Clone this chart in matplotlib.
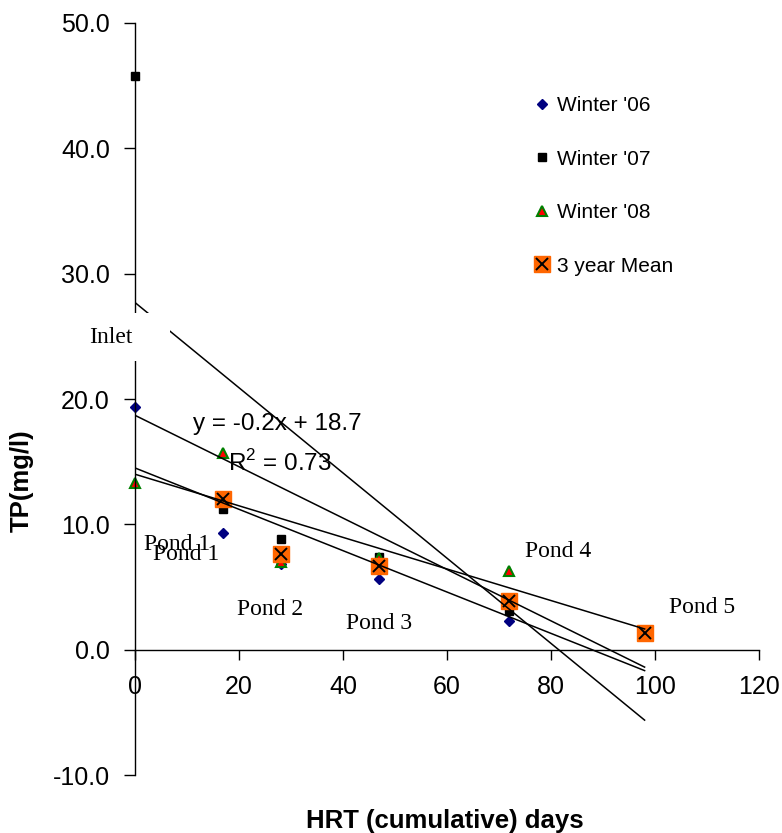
import matplotlib
matplotlib.use("Agg")
import matplotlib.pyplot as plt
from matplotlib.patches import Rectangle

# data
hrt = [0, 17, 28, 47, 72]
w06 = [19.4, 9.3, 6.8, 5.6, 2.3]
w07 = [45.8, 11.2, 8.8, 7.4, 3.1]
w08 = [13.3, 15.7, 7.0, 7.3, 6.3]
mean_hrt = [17, 28, 47, 72, 98]
mean_tp = [12.0, 7.6, 6.7, 3.9, 1.3]

# linear trend lines (slope, intercept), drawn over 0..98 days
trend_slope = [-0.34, -0.205, -0.126, -0.165]
trend_icpt = [27.7, 18.7, 14.0, 14.5]
trend_x = [0, 98]

pond_names = ["Inlet", "Pond 1", "Pond 1", "Pond 2", "Pond 3", "Pond 4", "Pond 5"]
pond_xy = [(-8.8, 24.9), (1.7, 8.4), (3.5, 7.6), (19.6, 3.2),
           (40.6, 2.1), (75.0, 7.8), (102.7, 3.35)]

plt.rcParams["font.family"] = ["Liberation Sans", "DejaVu Sans"]

fig = plt.figure(figsize=(7.82, 8.33), dpi=100)
ax = fig.add_axes([0.1726, 0.0696, 0.798, 0.9028])
ax.set_xlim(0, 120)
ax.set_ylim(-10, 50)

# markers
mk = dict(linestyle="none", clip_on=False, zorder=2)
h06, = ax.plot(hrt, w06, marker="D", ms=5.5, color="#000080", **mk)
h07, = ax.plot(hrt, w07, marker="s", ms=6.3, color="black", **mk)
h08, = ax.plot(hrt, w08, marker="^", ms=7.5, mfc="red", mec="#008000", mew=1.5, **mk)
hm1, = ax.plot(mean_hrt, mean_tp, marker="s", ms=11, color="#FF6600", **mk)
hm2, = ax.plot(mean_hrt, mean_tp, marker="x", ms=8.5, mew=1.4, color="black", **mk)

# trend lines
for s, b in zip(trend_slope, trend_icpt):
    ax.plot(trend_x, [b + s * x for x in trend_x], color="black", lw=1.1, zorder=3)

# white text box behind "Inlet" (hides axis and line as in the original)
ax.add_patch(Rectangle((-10, 23.0), 16.7, 3.9, facecolor="white", edgecolor="none",
                       clip_on=False, zorder=4))
for name, (x, y) in zip(pond_names, pond_xy):
    ax.text(x, y, name, family="Liberation Serif", fontsize=17, ha="left",
            va="center", zorder=5, clip_on=False)

ax.text(11.2, 18.0, "y = -0.2x + 18.7", fontsize=17.5, va="center", zorder=5)
ax.text(17.9, 14.9, r"R$^{\mathregular{2}}$ = 0.73", fontsize=17.5, va="center", zorder=5)

# axes styling
for sp in ["top", "right"]:
    ax.spines[sp].set_visible(False)
ax.spines["bottom"].set_position(("data", 0))
ax.spines["left"].set_linewidth(1.0)
ax.spines["bottom"].set_linewidth(1.0)
ax.set_xticks(range(0, 121, 20))
ax.set_yticks(range(-10, 51, 10))
ax.set_yticklabels([f"{v:.1f}" for v in range(-10, 51, 10)])
ax.tick_params(axis="x", direction="out", length=7, width=1, pad=11, labelsize=18)
ax.tick_params(axis="y", direction="out", length=8, width=1, pad=10, labelsize=18)

ax.set_xlabel("HRT (cumulative) days", fontsize=18.5, fontweight="bold")
ax.xaxis.set_label_coords(0.497, -0.045)
ax.set_ylabel("TP(mg/l)", fontsize=18.5, fontweight="bold")
ax.yaxis.set_label_coords(-0.163, 0.392)

ax.legend([h06, h07, h08, (hm1, hm2)],
          ["Winter '06", "Winter '07", "Winter '08", "3 year Mean"],
          loc="upper left", bbox_to_anchor=(534 / 782, 1 - 96 / 833),
          bbox_transform=fig.transFigure, frameon=False, fontsize=15,
          handlelength=0.8, handletextpad=0.3, labelspacing=1.66,
          borderpad=0, borderaxespad=0)

fig.savefig("out.png", dpi=100)
